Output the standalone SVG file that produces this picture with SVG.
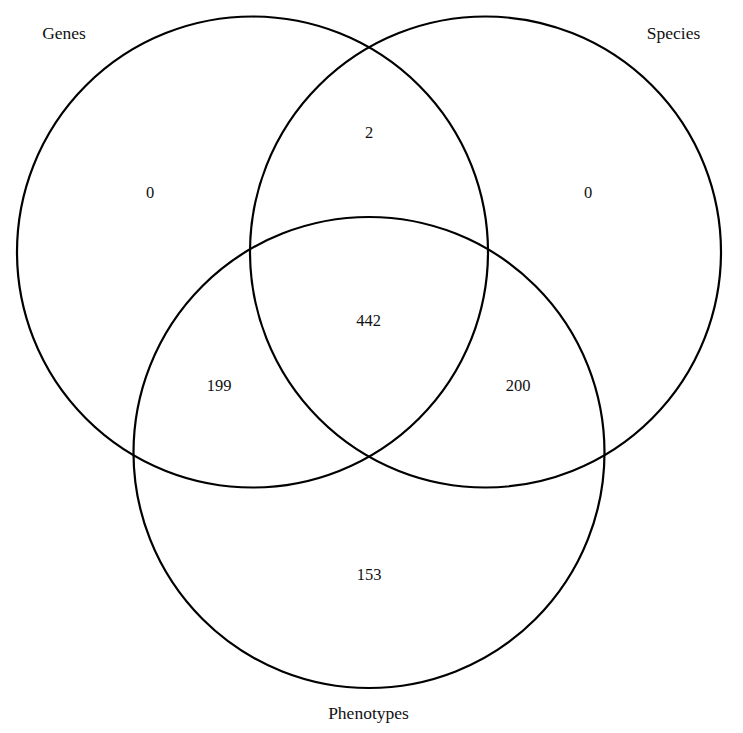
<svg xmlns="http://www.w3.org/2000/svg" width="743" height="733" viewBox="0 0 743 733">
<style>
.c{fill:none;stroke:#000;stroke-width:2.2}
text{font-family:"Liberation Serif","Times New Roman",serif;font-size:16.5px;fill:#111;text-anchor:middle}
.l{font-size:17.5px}
</style>
<rect width="743" height="733" fill="#fff"/>
<g id="genes"><circle class="c" cx="252.5" cy="252" r="235.5"/><text class="l" x="64" y="38.5">Genes</text></g>
<g id="species"><circle class="c" cx="485.5" cy="252" r="235.5"/><text class="l" x="673.5" y="38.5">Species</text></g>
<g id="phenotypes"><circle class="c" cx="369" cy="452.5" r="235.5"/><text class="l" x="368.5" y="718.5">Phenotypes</text></g>
<g id="counts">
<text x="150" y="198">0</text>
<text x="369" y="138">2</text>
<text x="588" y="198">0</text>
<text x="368.5" y="325.5">442</text>
<text x="219" y="391">199</text>
<text x="518" y="391">200</text>
<text x="369" y="580">153</text>
</g>
</svg>
